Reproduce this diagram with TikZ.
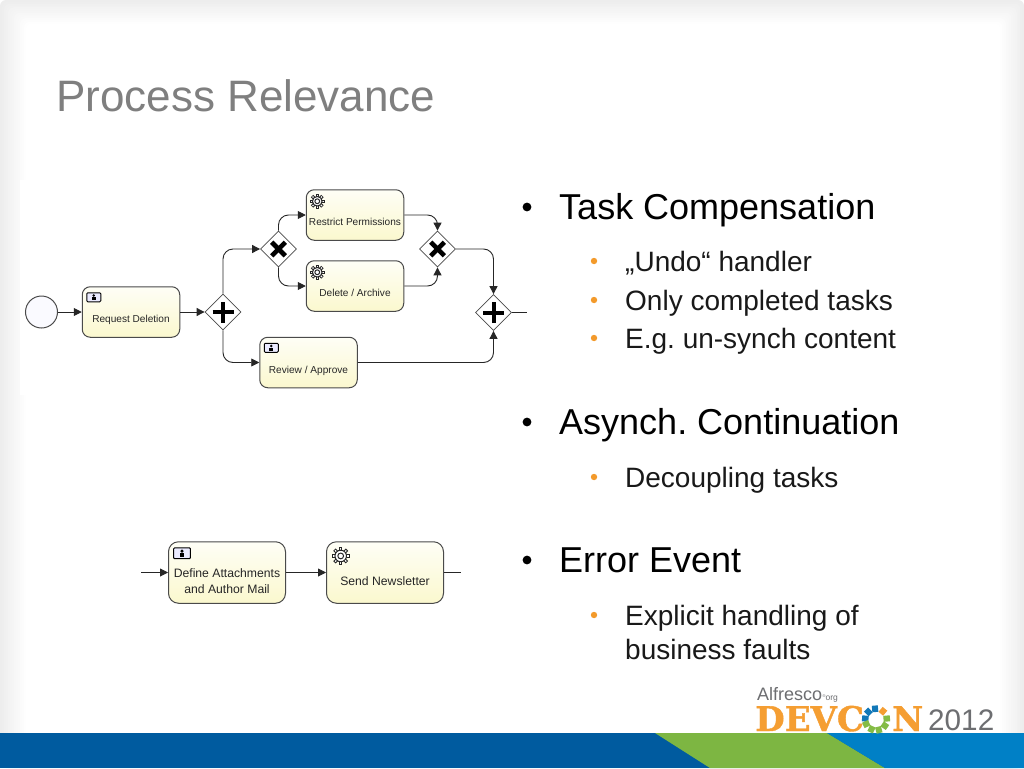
\documentclass[tikz,border=0pt]{standalone}
\usepackage{fontspec}
\setmainfont{Liberation Sans}
\newfontfamily\logofont[BoldFont={DejaVu Serif Bold},BoldFeatures={FakeBold=1.2}]{DejaVu Serif}
\usetikzlibrary{arrows.meta, positioning, shapes.geometric}
\definecolor{slategray}{HTML}{7F7F7F}
\definecolor{bulletorange}{HTML}{F39A2B}
\definecolor{banddark}{HTML}{005B9F}
\definecolor{bandgreen}{HTML}{7DB642}
\definecolor{bandblue}{HTML}{0080C6}
\definecolor{logoorange}{HTML}{F59E32}
\definecolor{logoblue}{HTML}{1278B8}
\definecolor{logogreen}{HTML}{84BC45}
\definecolor{logogray}{HTML}{6D6E71}
\definecolor{edgegray}{HTML}{EDEDED}
\definecolor{taskedge}{HTML}{4A4A4A}
\definecolor{tasktop}{HTML}{FEFEF6}
\definecolor{taskbottom}{HTML}{FBF8CE}

\begin{document}
\frenchspacing
\begin{tikzpicture}[
    x=1pt, y=-1pt,
    task/.style={rectangle, rounded corners=8pt, draw=taskedge, line width=1pt,
                top color=tasktop, bottom color=taskbottom,
                minimum width=97.5pt, minimum height=50.5pt, inner sep=0pt, align=center,
                font=\fontsize{10.1}{12}\selectfont, text=black!85,
                text height=24pt, text depth=3pt},
    bigtask/.style={task, rounded corners=10pt, minimum width=117pt, minimum height=61.5pt,
                font=\fontsize{12.2}{16}\selectfont, text height=29pt, text depth=3pt},
    gate/.style={diamond, draw=taskedge, fill=white, line width=0.8pt, aspect=1,
                minimum width=36pt, minimum height=36pt, inner sep=0pt},
    andgate/.style={gate, path picture={
                \draw[draw=black, line width=4pt] ([xshift=-10.5pt]path picture bounding box.center)
                  -- ([xshift=10.5pt]path picture bounding box.center);
                \draw[draw=black, line width=4pt] ([yshift=-10.5pt]path picture bounding box.center)
                  -- ([yshift=10.5pt]path picture bounding box.center);}},
    xorgate/.style={gate, path picture={
                \draw[draw=black, line width=4.6pt] ([shift={(-6.8pt,-6.8pt)}]path picture bounding box.center)
                  -- ([shift={(6.8pt,6.8pt)}]path picture bounding box.center);
                \draw[draw=black, line width=4.6pt] ([shift={(-6.8pt,6.8pt)}]path picture bounding box.center)
                  -- ([shift={(6.8pt,-6.8pt)}]path picture bounding box.center);}},
    arr/.style={-{Stealth[length=8pt, width=8pt, inset=0pt]}, line width=0.9pt, color=black!85},
    arrbend/.style={arr, rounded corners=10pt},
    plainline/.style={line width=0.9pt, color=black!85},
    mainitem/.style={anchor=base west, inner sep=0pt, font=\fontsize{36}{36}\selectfont},
    subitem/.style={anchor=base west, inner sep=0pt, font=\fontsize{28}{28}\selectfont, text=black!90},
    usericon/.pic={
        \draw[rounded corners=1pt, fill=blue!8, line width=1pt] (-7pt,-4.5pt) rectangle (7pt,4.5pt);
        \fill (0pt,1.8pt) circle (1.4pt);
        \fill (-1.8pt,-3.2pt) rectangle (1.8pt,0pt);},
    gearicon/.pic={
        \foreach \a in {0,45,...,315}
          \draw[line width=3.4pt, black!85] (\a:3pt) -- (\a:7.4pt);
        \foreach \a in {0,45,...,315}
          \draw[line width=1.2pt, white] (\a:3pt) -- (\a:6.6pt);
        \draw[black!85, fill=white, line width=1pt] (0pt,0pt) circle (4.8pt);
        \draw[black!85, line width=1pt] (0pt,0pt) circle (2.4pt);}
  ]
    \useasboundingbox (0,0) rectangle (1024,768);

    % backdrop
    \fill[white] (0,0) rectangle (1024,768);
    \foreach \i in {0,...,13} {
      \pgfmathsetmacro{\mixval}{100*\i/13}
      \fill[white!\mixval!edgegray, rounded corners=6pt]
        (2*\i,1.8*\i) rectangle (1024-1.8*\i,768);
    }
    \fill[white] (20,180) rectangle (528,395);

    % band
    \fill[banddark] (0,733) rectangle (1024,768);
    \fill[bandgreen] (655,733) -- (827,733) -- (885,768) -- (710,768) -- cycle;
    \fill[bandblue] (827,733) -- (1024,733) -- (1024,768) -- (885,768) -- cycle;

    % title
    \node[anchor=base west, inner sep=0pt, text=slategray, font=\fontsize{44}{44}\selectfont]
      (title) at (56,111) {Process Relevance};

    % upper process
    \node[circle, draw=taskedge, fill=blue!2, line width=1pt, minimum size=32pt, inner sep=0pt]
      (start) at (41.5,312) {};
    \node[task] (req) at (131,312) {Request Deletion};
    \node[andgate] (split) at (223,312) {};
    \node[xorgate] (choice) at (278.5,249) {};
    \node[task] (restrict) at (355,215) {Restrict Permissions};
    \node[task] (delete) at (355,286) {Delete / Archive};
    \node[task] (review) at (308.5,362.5) {Review / Approve};
    \node[xorgate] (merge) at (437.5,249) {};
    \node[andgate] (join) at (493.5,312.5) {};
    \coordinate (tail) at (527,312.5);

    \pic at ([shift={(12pt,-11pt)}]req.north west) {usericon};
    \pic at ([shift={(12pt,-11pt)}]review.north west) {usericon};
    \pic at ([shift={(11.5pt,-12pt)}]restrict.north west) {gearicon};
    \pic at ([shift={(11.5pt,-12pt)}]delete.north west) {gearicon};

    \draw[arr] (start) -- (req);
    \draw[arr] (req) -- (split);
    \draw[arrbend] (split.north) |- (choice.west);
    \draw[arrbend] (split.south) |- (review.west);
    \draw[arrbend] (choice.north) |- (restrict.west);
    \draw[arrbend] (choice.south) |- (delete.west);
    \draw[arrbend] (restrict.east) -| (merge.north);
    \draw[arrbend] (delete.east) -| (merge.south);
    \draw[arrbend] (merge.east) -| (join.north);
    \draw[arrbend] (review.east) -| (join.south);
    \draw[plainline] (join) -- (tail);

    % lower process
    \node[bigtask, text height=45pt] (define) at (227,572.5) {Define Attachments\\and Author Mail};
    \node[bigtask, right=40pt of define] (send) {Send Newsletter};
    \coordinate (lead) at (141,572.5);
    \coordinate (trail) at (461,572.5);
    \pic[scale=1.2] at ([shift={(14pt,-12pt)}]define.north west) {usericon};
    \pic[scale=1.2] at ([shift={(14.7pt,-14.7pt)}]send.north west) {gearicon};

    \draw[arr] (lead) -- (define);
    \draw[arr] (define) -- (send);
    \draw[plainline] (send) -- (trail);

    % bullets
    \foreach \y/\name/\txt in {219/taskc/Task Compensation, 434/asynch/Asynch. Continuation, 572/errev/Error Event} {
      \fill (527,\y-12) circle (4.4pt);
      \node[mainitem] (\name) at (559,\y) {\txt};
    }
    \foreach \y/\name/\txt in {271/undo/{„Undo“ handler}, 310/only/Only completed tasks, 348/eg/E.g. un-synch content,
                               487/decouple/Decoupling tasks, 625/expl/Explicit handling of} {
      \fill[bulletorange] (594,\y-10) circle (3.2pt);
      \node[subitem] (\name) at (625,\y) {\txt};
    }
    \node[subitem] (faults) at (625,659) {business faults};

    % logo
    \node[anchor=base west, inner sep=0pt, text=logogray, font=\fontsize{18}{18}\selectfont]
      (alf) at (757,700.5) {Alfresco};
    \node[inner sep=0pt, text=logogray, font=\fontsize{8.5}{9}\selectfont, anchor=base west]
      (org) at (alf.base east) {\raisebox{3pt}{\fontsize{4}{4}\selectfont ®}org};
    \node[anchor=base west, inner sep=0pt, text=logoorange, font=\logofont\bfseries\fontsize{34}{34}\selectfont]
      (dev) at (755,731) {DEVC};
    \node[anchor=base west, inner sep=0pt, text=logoorange, font=\logofont\bfseries\fontsize{34}{34}\selectfont]
      (con) at (892,731) {N};
    \node[anchor=base west, inner sep=0pt, text=logogray, font=\fontsize{29.7}{30}\selectfont]
      (year) at (928,730.5) {2012};
    \coordinate (hub) at (876,719.5);
    \foreach \a/\c in {95/logoblue,135/logoblue,175/logoblue,50/logoorange,5/logogreen,
                       -35/logogreen,-75/logogreen,-115/logogreen,-155/logogreen}
      \draw[\c, line width=6pt] ([shift={(\a:7.5pt)}]hub) -- ([shift={(\a:14pt)}]hub);
  \end{tikzpicture}
\end{document}
